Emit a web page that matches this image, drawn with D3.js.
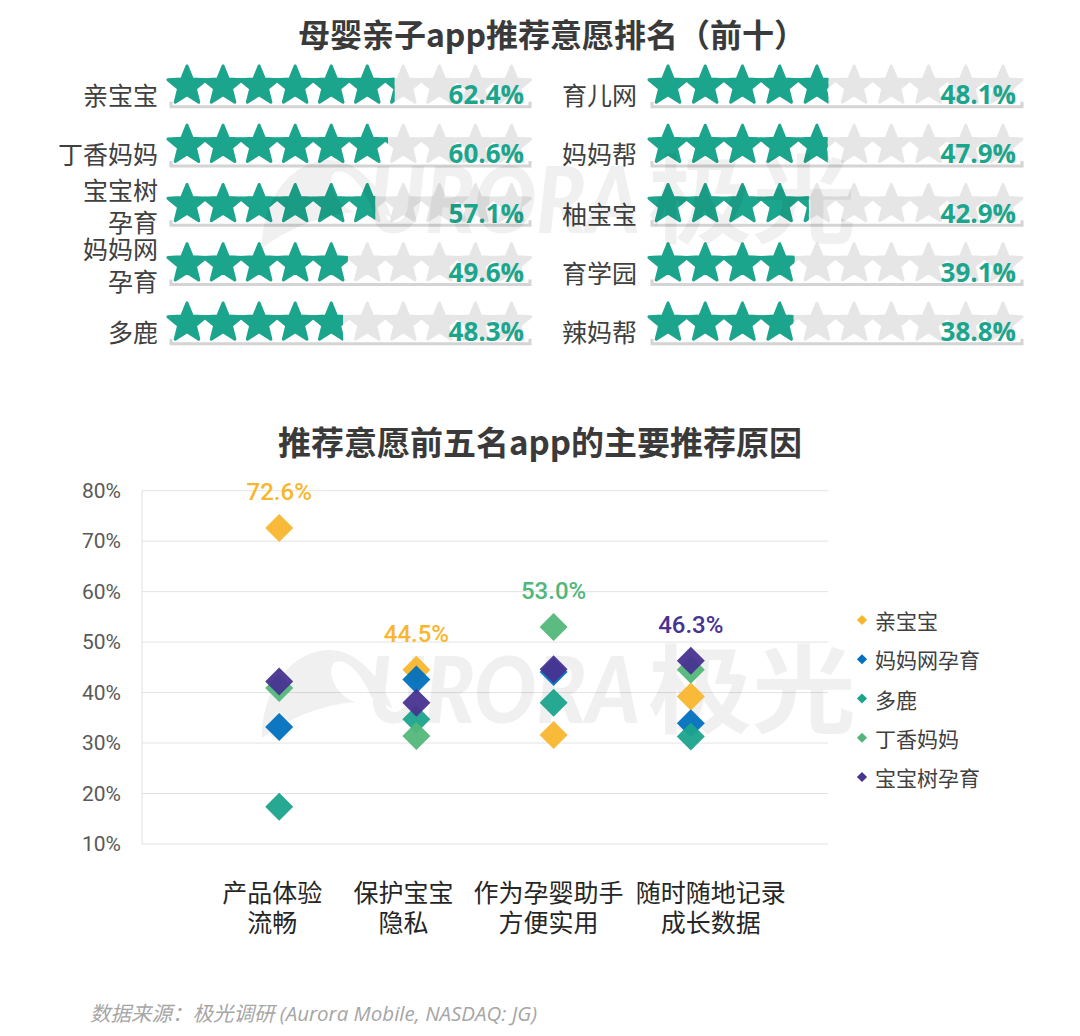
<!DOCTYPE html>
<html><head><meta charset="utf-8">
<script src="https://cdn.jsdelivr.net/npm/d3@7"></script>
<style>
html,body{margin:0;padding:0;background:#fff;}
svg{display:block;}
</style></head>
<body>
<svg id="chart" width="1080" height="1036"></svg>
<script>
// ---------- DATA ----------
const leftApps = ["亲宝宝", "丁香妈妈", "宝宝树孕育", "妈妈网孕育", "多鹿"];
const leftValues = [62.4, 60.6, 57.1, 49.6, 48.3];
const rightApps = ["育儿网", "妈妈帮", "柚宝宝", "育学园", "辣妈帮"];
const rightValues = [48.1, 47.9, 42.9, 39.1, 38.8];

const reasons = ["产品体验|流畅", "保护宝宝|隐私", "作为孕婴助手|方便实用", "随时随地记录|成长数据"];
const seriesNames = ["亲宝宝", "妈妈网孕育", "多鹿", "丁香妈妈", "宝宝树孕育"];
const v_qinbaobao = [72.6, 44.5, 31.6, 39.2];
const v_mamawang = [33.2, 42.6, 44.1, 33.9];
const v_duolu = [17.4, 34.7, 38.0, 31.3];
const v_dingxiang = [40.9, 31.4, 53.0, 44.5];
const v_baobaoshu = [42.2, 38.0, 44.6, 46.3];
const yTicks = [10, 20, 30, 40, 50, 60, 70, 80];

const title1 = "母婴亲子app推荐意愿排名（前十）";
const title2 = "推荐意愿前五名app的主要推荐原因";
const sourceText = "数据来源：极光调研 (Aurora Mobile, NASDAQ: JG)";

// ---------- STYLE ----------
const seriesColors = ["#F8B62D", "#0070BF", "#1BA38C", "#52B77A", "#483390"];
const teal = "#1CA58D";
const starGrey = "#E6E6E6";
const cjk = "'Noto Sans CJK SC','Noto Sans',sans-serif";
const num = "'Open Sans','Noto Sans',sans-serif";
const rob = "Roboto,'Noto Sans',sans-serif";

const svg = d3.select("#chart");
const defs = svg.append("defs");

// ---------- TITLES ----------
svg.append("text").attr("x", 552).attr("y", 33).attr("text-anchor", "middle")
  .attr("dominant-baseline", "central")
  .style("font-family", cjk).style("font-weight", 700).style("font-size", "32px").style("fill", "#3A3A3A")
  .text(title1);
svg.append("text").attr("x", 540).attr("y", 441).attr("text-anchor", "middle")
  .attr("dominant-baseline", "central")
  .style("font-family", cjk).style("font-weight", 700).style("font-size", "33px").style("fill", "#3A3A3A")
  .text(title2);

// ---------- STAR RATING ----------
const R = 20;
function starD(Ro, ri) {
  const pts = d3.range(10).map(k => {
    const a = -Math.PI / 2 + k * Math.PI / 5;
    const rr = k % 2 ? ri : Ro;
    return [rr * Math.cos(a), rr * Math.sin(a)];
  });
  return "M" + pts.map(p => p[0].toFixed(2) + "," + p[1].toFixed(2)).join("L") + "Z";
}
const starPath = starD(R, R * 0.44);
const rowY = d3.scalePoint().domain(d3.range(5)).range([86, 323]);

function starColumn(apps, values, cfg, id) {
  const g = svg.append("g");
  const xs = d3.scalePoint().domain(d3.range(10)).range([cfg.first, cfg.last]);
  const half = 1.902 * (R + 1.5) / 2;
  const left = cfg.first - half, right = cfg.last + half;
  const fill = d3.scaleLinear().domain([0, 100]).range([left, right]);
  apps.forEach((name, i) => {
    const cy = rowY(i);
    const row = g.append("g");
    const ly = cy + 0.809 * R + 4.5;
    row.append("path")
      .attr("d", `M${cfg.lineL},${ly - 5} L${cfg.lineL},${ly} L${cfg.lineR},${ly} L${cfg.lineR},${ly - 5}`)
      .attr("fill", "none").attr("stroke", "#D4D4D4").attr("stroke-width", 3);
    row.selectAll("path.bg").data(d3.range(10)).join("path").attr("class", "bg")
      .attr("d", starPath).attr("transform", d => `translate(${xs(d)},${cy})`)
      .attr("fill", starGrey).attr("stroke", starGrey).attr("stroke-width", 3).attr("stroke-linejoin", "round");
    const cid = `clip-${id}-${i}`;
    defs.append("clipPath").attr("id", cid).append("rect")
      .attr("x", left - 4).attr("y", cy - R - 4)
      .attr("width", fill(values[i]) - left + 4).attr("height", 2 * R + 8);
    row.append("g").attr("clip-path", `url(#${cid})`)
      .selectAll("path").data(d3.range(10)).join("path")
      .attr("d", starPath).attr("transform", d => `translate(${xs(d)},${cy})`)
      .attr("fill", teal).attr("stroke", teal).attr("stroke-width", 3).attr("stroke-linejoin", "round");
    row.append("text").attr("x", cfg.valX).attr("y", cy + 8).attr("text-anchor", "end")
      .attr("dominant-baseline", "central")
      .style("font-family", num).style("font-weight", 700).style("font-size", "26px").style("fill", teal)
      .text(values[i].toFixed(1) + "%");
    const lines = name.length > 4 ? [name.slice(0, 3), name.slice(3)] : [name];
    const offs = lines.length === 1 ? [8] : [-16, 16];
    lines.forEach((t, k) => {
      row.append("text").attr("x", cfg.labX).attr("y", cy + offs[k]).attr("text-anchor", "end")
        .attr("dominant-baseline", "central")
        .style("font-family", cjk).style("font-size", "25px").style("fill", "#404040")
        .text(t);
    });
  });
}
starColumn(leftApps, leftValues, {first: 187, last: 511.5, lineL: 171, lineR: 530, valX: 524, labX: 158}, "L");
starColumn(rightApps, rightValues, {first: 668, last: 1003, lineL: 652, lineR: 1022, valX: 1016, labX: 637}, "R");

// ---------- SCATTER ----------
const x = d3.scalePoint().domain(reasons).range([142, 828]).padding(1);
const y = d3.scaleLinear().domain([10, 80]).range([844, 490.7]);

const grid = svg.append("g");
grid.selectAll("line").data(yTicks).join("line")
  .attr("x1", 142).attr("x2", 828).attr("y1", d => y(d)).attr("y2", d => y(d))
  .attr("stroke", "#E3E3E3").attr("stroke-width", 1);
grid.append("line").attr("x1", 142).attr("x2", 142).attr("y1", y(80)).attr("y2", y(10))
  .attr("stroke", "#E0E0E0").attr("stroke-width", 1);

const yAxis = svg.append("g").attr("transform", "translate(121,0)")
  .call(d3.axisLeft(y).tickValues(yTicks).tickSize(0).tickPadding(0).tickFormat(d => d + "%"));
yAxis.select(".domain").remove();
yAxis.selectAll("text").style("font-family", rob).style("font-size", "21px").style("fill", "#595959");

const xLabelShift = [-7, -13, -5, 20];
const xl = svg.append("g");
reasons.forEach((r, i) => {
  r.split("|").forEach((t, k) => {
    xl.append("text").attr("x", x(r) + xLabelShift[i]).attr("y", 891 + k * 30)
      .attr("text-anchor", "middle").attr("dominant-baseline", "central")
      .style("font-family", cjk).style("font-size", "25px").style("fill", "#262626")
      .text(t);
  });
});

// watermark
function watermark(cy) {
  const wm = svg.append("g").style("pointer-events", "none").attr("opacity", 0.055);
  wm.append("path")
    .attr("d", `M262,${cy + 48} C262,${cy - 5} 295,${cy - 40} 330,${cy - 40} C360,${cy - 40} 385,${cy - 5} 392,${cy + 18} L372,${cy + 8} C360,${cy - 20} 345,${cy - 32} 335,${cy - 28} C325,${cy - 20} 335,${cy + 5} 355,${cy + 12} C320,${cy + 15} 290,${cy + 28} 262,${cy + 48} Z`)
    .attr("fill", "#000");
  wm.append("text").attr("x", 368).attr("y", cy + 33).attr("textLength", 272).attr("lengthAdjust", "spacingAndGlyphs")
    .style("font-family", "Lato,'DejaVu Sans',sans-serif").style("font-weight", 900).style("font-style", "italic")
    .style("font-size", "92px").style("fill", "#000").text("URORA");
  wm.append("text").attr("x", 648).attr("y", cy + 35).attr("textLength", 208).attr("lengthAdjust", "spacingAndGlyphs")
    .style("font-family", cjk).style("font-weight", 700)
    .style("font-size", "96px").style("fill", "#000").text("极光");
}
watermark(200);
watermark(690);

// points
const allSeries = [v_qinbaobao, v_mamawang, v_duolu, v_dingxiang, v_baobaoshu];
const diamond = d3.symbol(d3.symbolSquare, 392)();
const pts = svg.append("g");
allSeries.forEach((vals, s) => {
  pts.append("g").selectAll("path").data(vals).join("path")
    .attr("d", diamond)
    .attr("transform", (d, i) => `translate(${x(reasons[i])},${y(d)}) rotate(45)`)
    .attr("fill", seriesColors[s]).attr("opacity", 0.95);
});

reasons.forEach((r, i) => {
  let best = 0;
  allSeries.forEach((vals, s) => { if (vals[i] > allSeries[best][i]) best = s; });
  const v = allSeries[best][i];
  svg.append("text").attr("x", x(r)).attr("y", y(v) - 36)
    .attr("text-anchor", "middle").attr("dominant-baseline", "central")
    .style("font-family", rob).style("font-weight", 500).style("font-size", "24px")
    .style("fill", seriesColors[best]).text(v.toFixed(1) + "%");
});

// legend
const legY = d3.scalePoint().domain(seriesNames).range([620, 777]);
const smallDiamond = d3.symbol(d3.symbolSquare, 52)();
const leg = svg.append("g");
seriesNames.forEach((n, s) => {
  leg.append("path").attr("d", smallDiamond)
    .attr("transform", `translate(862,${legY(n)}) rotate(45)`).attr("fill", seriesColors[s]);
  leg.append("text").attr("x", 875).attr("y", legY(n)).attr("dominant-baseline", "central")
    .style("font-family", cjk).style("font-size", "21px").style("fill", "#404040").text(n);
});

svg.append("text").attr("x", 90).attr("y", 1013).attr("dominant-baseline", "central")
  .style("font-family", "'Open Sans','Noto Sans CJK SC',sans-serif").style("font-style", "italic")
  .style("font-size", "20.5px").style("fill", "#A6A6A6").text(sourceText);
</script>
</body></html>
